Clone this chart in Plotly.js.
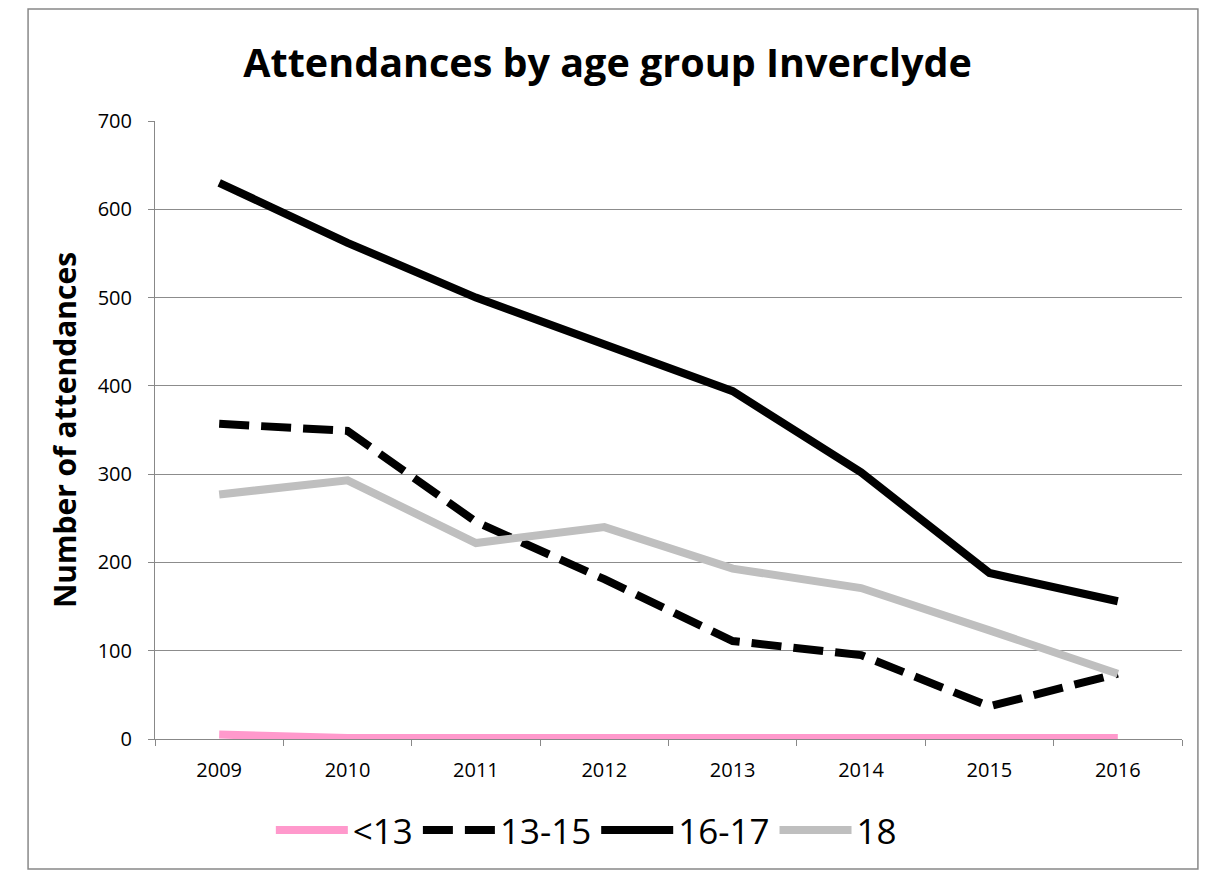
<!DOCTYPE html>
<html>
<head>
<meta charset="utf-8">
<script src="https://cdn.plot.ly/plotly-3.0.1.min.js"></script>
<style>
  html, body { margin: 0; padding: 0; background: #fff; }
  #chart { width: 1208px; height: 875px; }
</style>
</head>
<body>
<div id="chart"></div>
<script>
// Years on the category axis
const years = ['2009', '2010', '2011', '2012', '2013', '2014', '2015', '2016'];

// Attendances per age group
const under13 = [5, 1, 1, 1, 2, 1, 1, 1];
const age13to15 = [357, 349, 246, 181, 111, 95, 37, 74];
const age16to17 = [630, 562, 500, 446, 394, 302, 188, 156];
const age18 = [277, 293, 222, 240, 193, 171, 123, 74];

const seriesNames = ['<13', '13-15', '16-17', '18'];

const font = "Open Sans, Noto Sans, Liberation Sans, sans-serif";

const traces = [
  { x: years, y: under13, name: seriesNames[0], mode: 'lines',
    line: { color: '#ff99cc', width: 8 } },
  { x: years, y: age13to15, name: seriesNames[1], mode: 'lines',
    line: { color: '#000000', width: 8, dash: '30px,12px' } },
  { x: years, y: age16to17, name: seriesNames[2], mode: 'lines',
    line: { color: '#000000', width: 8 } },
  { x: years, y: age18, name: seriesNames[3], mode: 'lines',
    line: { color: '#bfbfbf', width: 8 } }
];

const layout = {
  width: 1208,
  height: 875,
  paper_bgcolor: '#ffffff',
  plot_bgcolor: '#ffffff',
  margin: { l: 155, r: 26, t: 121, b: 136 },
  title: {
    text: '<b>Attendances by age group Inverclyde</b>',
    font: { family: font, size: 39.5, color: '#000' },
    x: 0.503, xanchor: 'center', xref: 'container',
    y: 0.928, yanchor: 'middle', yref: 'container'
  },
  showlegend: true,
  legend: {
    orientation: 'h',
    x: 0.42, xanchor: 'center',
    y: -0.1, yanchor: 'top',
    font: { family: font, size: 35, color: '#000' },
    itemwidth: 72,
    tracegroupgap: 0
  },
  xaxis: {
    type: 'category',
    range: [-0.5, 7.5],
    tickson: 'boundaries',
    ticks: 'outside',
    ticklen: 6,
    tickcolor: '#888',
    showline: true,
    linecolor: '#888',
    linewidth: 1,
    showgrid: false,
    zeroline: false,
    ticklabelstandoff: 13,
    tickfont: { family: font, size: 20, color: '#000' },
    fixedrange: true
  },
  yaxis: {
    range: [0, 700],
    dtick: 100,
    ticks: 'outside',
    ticklen: 6,
    tickcolor: '#888',
    showline: true,
    linecolor: '#888',
    linewidth: 1,
    showgrid: true,
    gridcolor: '#8c8c8c',
    gridwidth: 1,
    zeroline: false,
    ticklabelstandoff: 12,
    tickfont: { family: font, size: 20, color: '#000' },
    title: {
      text: '<b>Number of attendances</b>',
      font: { family: font, size: 30, color: '#000' },
      standoff: 12
    },
    fixedrange: true
  },
  shapes: [
    { type: 'rect', xref: 'paper', yref: 'paper',
      x0: -0.1236, x1: 1.0155, y0: -0.2102, y1: 1.1812,
      line: { color: '#888', width: 1.5 }, fillcolor: 'rgba(0,0,0,0)', layer: 'below' }
  ]
};

Plotly.newPlot('chart', traces, layout, { displayModeBar: false, staticPlot: true });
</script>
</body>
</html>
